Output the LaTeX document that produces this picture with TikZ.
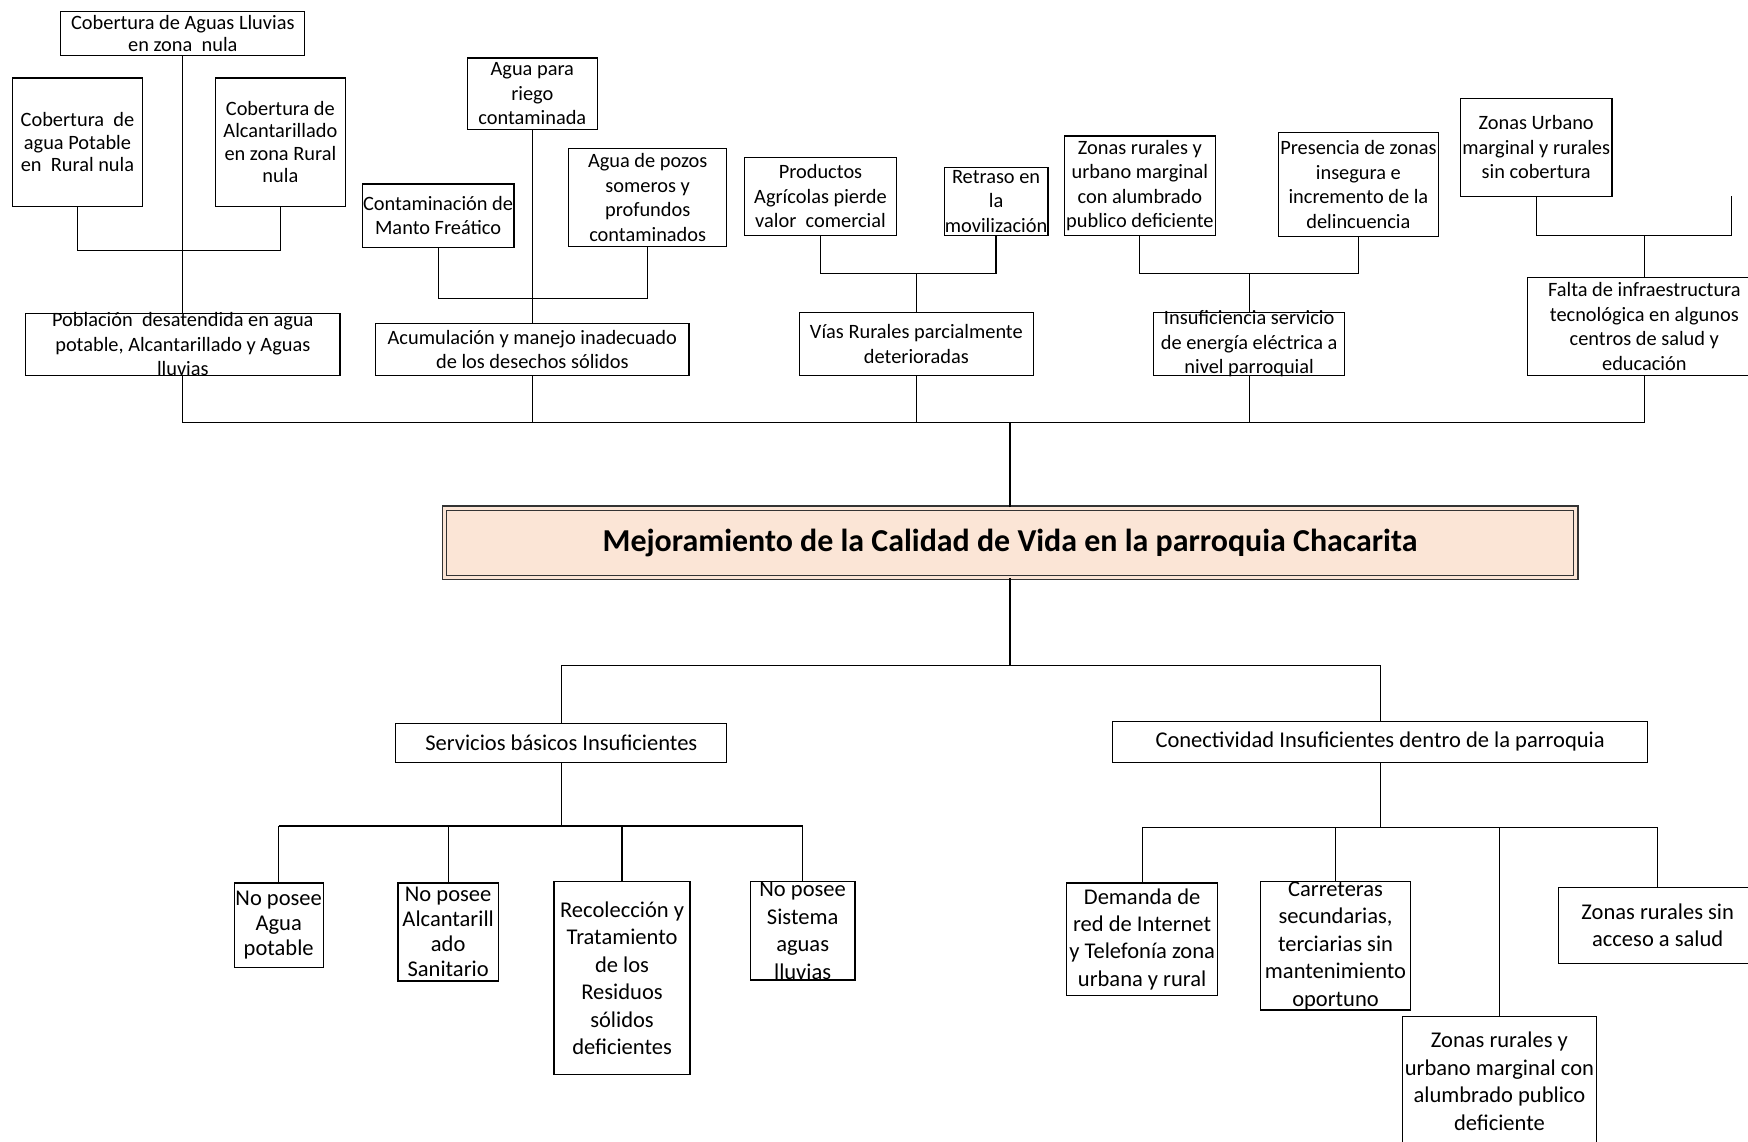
\documentclass[tikz,border=0pt]{standalone}
\usepackage{fontspec}
\setmainfont{Carlito}
\definecolor{titlepeach}{RGB}{251,229,214}

\begin{document}
\begin{tikzpicture}[
  x=0.02cm, y=-0.02cm,
  line width=0.6pt,
  wh/.style 2 args={minimum width=#1*0.02cm, minimum height=#2*0.02cm},
  cause text/.style={font=\fontsize{10.4}{12.5}\selectfont},
  effect text/.style={font=\fontsize{11.5}{14}\selectfont},
  cause/.style={draw, inner sep=0pt, align=center, cause text},
  cause tight/.style={cause, font=\fontsize{10.4}{11.4}\selectfont},
  effect/.style={draw, inner sep=0pt, align=center, effect text},
  effect tight/.style={effect, font=\fontsize{11.5}{12.8}\selectfont},
  head/.style={draw=black!80, fill=titlepeach, double=titlepeach, double distance=1.6pt,
    inner sep=0pt, font=\fontsize{16.3}{19}\selectfont\bfseries},
  every label/.style={inner sep=0pt, align=center}
]
\useasboundingbox (0,0) rectangle (1568,1024);
% niveles de las lineas
\coordinate (busA) at (0,225);
\coordinate (busB) at (0,268);
\coordinate (busC) at (0,245);
\coordinate (busE) at (0,211);
\coordinate (bus) at (0,379);
\coordinate (split) at (0,597);
\coordinate (busF) at (0,741);
\coordinate (busG) at (0,742);

% causas
\node[cause tight, wh={219}{40}] (cobll) at (164,30) {Cobertura de Aguas Lluvias\\en zona~ nula};
\node[cause tight, wh={117}{115}] (cobap) at (69.5,127.5) {Cobertura~ de\\agua Potable\\en~ Rural nula};
\node[cause tight, wh={117}{115}] (cobalc) at (251.5,127.5) {Cobertura de\\Alcantarillado\\en zona Rural\\nula};
\node[cause, wh={282}{56}, label={[cause text]center:{Población~ desatendida en agua\\potable, Alcantarillado y Aguas\\lluvias}}] (pob) at (164,309) {};

\node[cause, wh={117}{64}] (riego) at (477.5,84) {Agua para\\riego\\contaminada};
\node[cause, wh={136}{57}] (manto) at (393,193.5) {Contaminación de\\Manto Freático};
\node[cause, wh={142}{88}] (pozos) at (581,177) {Agua de pozos\\someros y\\profundos\\contaminados};
\node[cause, wh={281}{47}] (acu) at (477.5,313.5) {Acumulación y manejo inadecuado\\de los desechos sólidos};

\node[cause, wh={136}{70}] (prod) at (736,176) {Productos\\Agrícolas pierde\\valor~ comercial};
\node[cause, wh={93}{61}, label={[cause text]center:{Retraso en\\la\\movilización}}] (retraso) at (893.5,180.5) {};
\node[cause, wh={210}{57}] (vias) at (822,308.5) {Vías Rurales parcialmente\\deterioradas};

\node[cause, wh={135}{89}] (alum) at (1022.5,166.5) {Zonas rurales y\\urbano marginal\\con alumbrado\\publico deficiente};
\node[cause, wh={143}{93}] (inseg) at (1218.5,165.5) {Presencia de zonas\\insegura e\\incremento de la\\delincuencia};
\node[cause, wh={171}{57}, label={[cause text]center:{Insuficiencia servicio\\de energía eléctrica a\\nivel parroquial}}] (energia) at (1120.5,308.5) {};

\node[cause, wh={136}{88}] (sincob) at (1378,132) {Zonas Urbano\\marginal y rurales\\sin cobertura};
\node[cause, wh={210}{88}] (falta) at (1475,293) {Falta de infraestructura\\tecnológica en algunos\\centros de salud y\\educación};
\coordinate (stub) at (1553,176);

% problema central
\node[head, wh={1015}{62.5}] (main) at (906,487) {Mejoramiento de la Calidad de Vida en la parroquia Chacarita};

% efectos
\node[effect, wh={297}{35}] (serv) at (503.5,666.5) {Servicios básicos Insuficientes};
\node[effect tight, wh={80}{76}] (agua) at (250,830) {No posee\\Agua\\potable};
\node[effect tight, wh={90}{88}] (alc) at (402,836) {No posee\\Alcantarill\\ado\\Sanitario};
\node[effect, wh={122}{173}] (resid) at (558,877.5) {Recolección y\\Tratamiento\\de los\\Residuos\\sólidos\\deficientes};
\node[effect, wh={94}{88}, label={[effect text]center:{No posee\\Sistema\\aguas\\lluvias}}] (lluv) at (720,835) {};

\node[effect, wh={480}{37}] (conec) at (1238,665.5) {Conectividad Insuficientes dentro de la parroquia};
\node[effect, wh={135}{101}] (internet) at (1024.5,842.5) {Demanda de\\red de Internet\\y Telefonía zona\\urbana y rural};
\node[effect, wh={134}{115}, label={[effect text]center:{Carreteras\\secundarias,\\terciarias sin\\mantenimiento\\oportuno}}] (carret) at (1198,848.5) {};
\node[effect, wh={174}{116}] (alum2) at (1345,970) {Zonas rurales y\\urbano marginal con\\alumbrado publico\\deficiente};
\node[effect, wh={178}{68}] (salud) at (1487,830) {Zonas rurales sin\\acceso a salud};

% conectores de arriba
\foreach \l/\r/\y in {cobap/cobalc/busA, manto/pozos/busB, prod/retraso/busC, alum/inseg/busC, sincob/stub/busE}
  \draw (\l.south) -- (\l.south |- \y) -- (\r.south |- \y) -- (\r.south);
\draw (cobll.south) -- (pob.north);
\draw (riego.south) -- (acu.north);
\foreach \n/\y in {vias/busC, energia/busC, falta/busE}
  \draw (\n.north) -- (\n.north |- \y);
\foreach \n in {pob,acu,vias,energia,falta}
  \draw (\n.south) -- (\n.south |- bus);
\draw (pob.south |- bus) -- (falta.south |- bus);
\draw (main.north) -- (main.north |- bus);

% conectores de abajo
\draw (main.south) -- (main.south |- split);
\draw (serv.north) -- (serv.north |- split) -- (conec.north |- split) -- (conec.north);
\draw (serv.south) -- (serv.south |- busF);
\draw (agua.north |- busF) -- (lluv.north |- busF);
\foreach \n in {agua,alc,resid,lluv}
  \draw (\n.north) -- (\n.north |- busF);
\draw (conec.south) -- (conec.south |- busG);
\draw (internet.north |- busG) -- (salud.north |- busG);
\foreach \n in {internet,carret,alum2,salud}
  \draw (\n.north) -- (\n.north |- busG);
\end{tikzpicture}
\end{document}
